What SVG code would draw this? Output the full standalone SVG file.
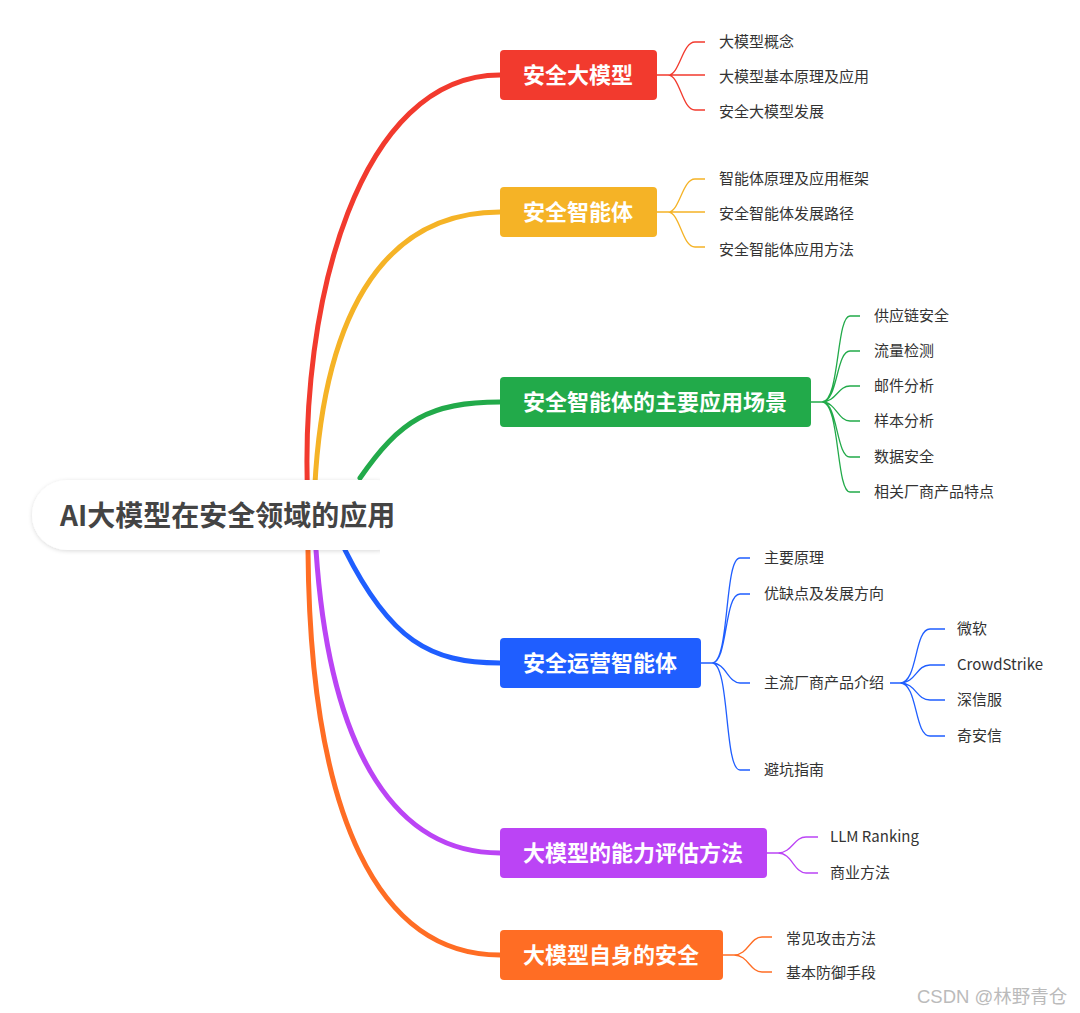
<svg xmlns="http://www.w3.org/2000/svg" width="1080" height="1013" viewBox="0 0 1080 1013">
<style>
.m{font-family:"Noto Sans CJK SC","Liberation Sans",sans-serif;font-size:22px;font-weight:bold;fill:#fff}
.l{font-family:"Noto Sans CJK SC","Liberation Sans",sans-serif;font-size:15px;fill:#333}
.c{fill:none;stroke-linecap:round}
</style>
<defs>
<filter id="sh" x="-10%" y="-30%" width="120%" height="160%"><feDropShadow dx="0" dy="1" stdDeviation="2" flood-color="#000" flood-opacity="0.15"/></filter>
</defs>
<rect width="1080" height="1013" fill="#fff"/>
<g id="connectors">
<path class="c" stroke="#F23A2E" stroke-width="5" d="M308,505 C298,300 360,75 500,75"/>
<path class="c" stroke="#F5B326" stroke-width="5" d="M314,505 C320,320 380,212 500,212"/>
<path class="c" stroke="#22AA4A" stroke-width="5" d="M360,478 C400,420 430,402 500,402"/>
<path class="c" stroke="#1F5EFF" stroke-width="5" d="M345,550 C390,640 430,663 500,663"/>
<path class="c" stroke="#BB44F5" stroke-width="5" d="M316,550 C330,760 400,853 500,853"/>
<path class="c" stroke="#FF6D24" stroke-width="5" d="M308,550 C310,820 380,955 500,955"/>
<g stroke="#F23A2E" stroke-width="1.3" fill="none">
<path d="M657,75 H668 M668,75 C680,75 682,42 695,42 H705 M668,75 H705 M668,75 C680,75 682,110 695,110 H705"/>
</g>
<g stroke="#F5B326" stroke-width="1.3" fill="none">
<path d="M657,212 H668 M668,212 C680,212 682,179 695,179 H705 M668,212 H705 M668,212 C680,212 682,247 695,247 H705"/>
</g>
<g stroke="#22AA4A" stroke-width="1.3" fill="none">
<path d="M811,402 H822 M822,402 C840,402 836,316 850,316 H860 M822,402 C838,402 836,351 850,351 H860 M822,402 C836,402 838,386 850,386 H860 M822,402 C836,402 838,421 850,421 H860 M822,402 C838,402 836,457 850,457 H860 M822,402 C840,402 836,492 850,492 H860"/>
</g>
<g stroke="#1F5EFF" stroke-width="1.3" fill="none">
<path d="M701,663 H712 M712,663 C730,663 724,558 740,558 H750 M712,663 C728,663 724,594 740,594 H750 M712,663 C726,663 728,683 740,683 H750 M712,663 C730,663 724,770 740,770 H750"/>
<path d="M890,683 H900 M900,683 C918,683 914,629 930,629 H945 M900,683 C916,683 916,665 930,665 H945 M900,683 C916,683 916,700 930,700 H945 M900,683 C918,683 914,736 930,736 H945"/>
</g>
<g stroke="#BB44F5" stroke-width="1.3" fill="none">
<path d="M767,853 H778 M778,853 C792,853 794,837 806,837 H818 M778,853 C792,853 794,873 806,873 H818"/>
</g>
<g stroke="#FF6D24" stroke-width="1.3" fill="none">
<path d="M723,955 H734 M734,955 C748,955 750,937 762,937 H772 M734,955 C748,955 750,972 762,972 H772"/>
</g>
</g>
<g id="root">
<rect x="32" y="480" width="380" height="70" rx="35" fill="#fff" filter="url(#sh)"/>
<rect x="380" y="470" width="40" height="90" fill="#fff"/>
<text x="60" y="526" font-family="'Noto Sans CJK SC','Liberation Sans',sans-serif" font-size="28" font-weight="bold" fill="#444">AI大模型在安全领域的应用</text>
</g>
<g id="n1"><rect x="500" y="50" width="157" height="50" rx="4" fill="#F23A2E"/><text class="m" x="523" y="83">安全大模型</text></g>
<g id="n2"><rect x="500" y="187" width="157" height="50" rx="4" fill="#F5B326"/><text class="m" x="523" y="220">安全智能体</text></g>
<g id="n3"><rect x="500" y="377" width="311" height="50" rx="4" fill="#22AA4A"/><text class="m" x="523" y="410">安全智能体的主要应用场景</text></g>
<g id="n4"><rect x="500" y="638" width="201" height="50" rx="4" fill="#1F5EFF"/><text class="m" x="523" y="671">安全运营智能体</text></g>
<g id="n5"><rect x="500" y="828" width="267" height="50" rx="4" fill="#BB44F5"/><text class="m" x="523" y="861">大模型的能力评估方法</text></g>
<g id="n6"><rect x="500" y="930" width="223" height="50" rx="4" fill="#FF6D24"/><text class="m" x="523" y="963">大模型自身的安全</text></g>
<g id="leaves">
<text class="l" x="719" y="47">大模型概念</text>
<text class="l" x="719" y="82">大模型基本原理及应用</text>
<text class="l" x="719" y="117">安全大模型发展</text>
<text class="l" x="719" y="184">智能体原理及应用框架</text>
<text class="l" x="719" y="219">安全智能体发展路径</text>
<text class="l" x="719" y="255">安全智能体应用方法</text>
<text class="l" x="874" y="321">供应链安全</text>
<text class="l" x="874" y="356">流量检测</text>
<text class="l" x="874" y="391">邮件分析</text>
<text class="l" x="874" y="426">样本分析</text>
<text class="l" x="874" y="462">数据安全</text>
<text class="l" x="874" y="497">相关厂商产品特点</text>
<text class="l" x="764" y="563">主要原理</text>
<text class="l" x="764" y="599">优缺点及发展方向</text>
<text class="l" x="764" y="688">主流厂商产品介绍</text>
<text class="l" x="764" y="775">避坑指南</text>
<text class="l" x="957" y="634">微软</text>
<text class="l" x="957" y="670">CrowdStrike</text>
<text class="l" x="957" y="705">深信服</text>
<text class="l" x="957" y="741">奇安信</text>
<text class="l" x="830" y="842">LLM Ranking</text>
<text class="l" x="830" y="878">商业方法</text>
<text class="l" x="786" y="944">常见攻击方法</text>
<text class="l" x="786" y="978">基本防御手段</text>
</g>
<text x="917" y="1003" font-family="'Liberation Sans','Noto Sans CJK SC',sans-serif" font-size="18.5" fill="#bbb">CSDN @林野青仓</text>
</svg>
